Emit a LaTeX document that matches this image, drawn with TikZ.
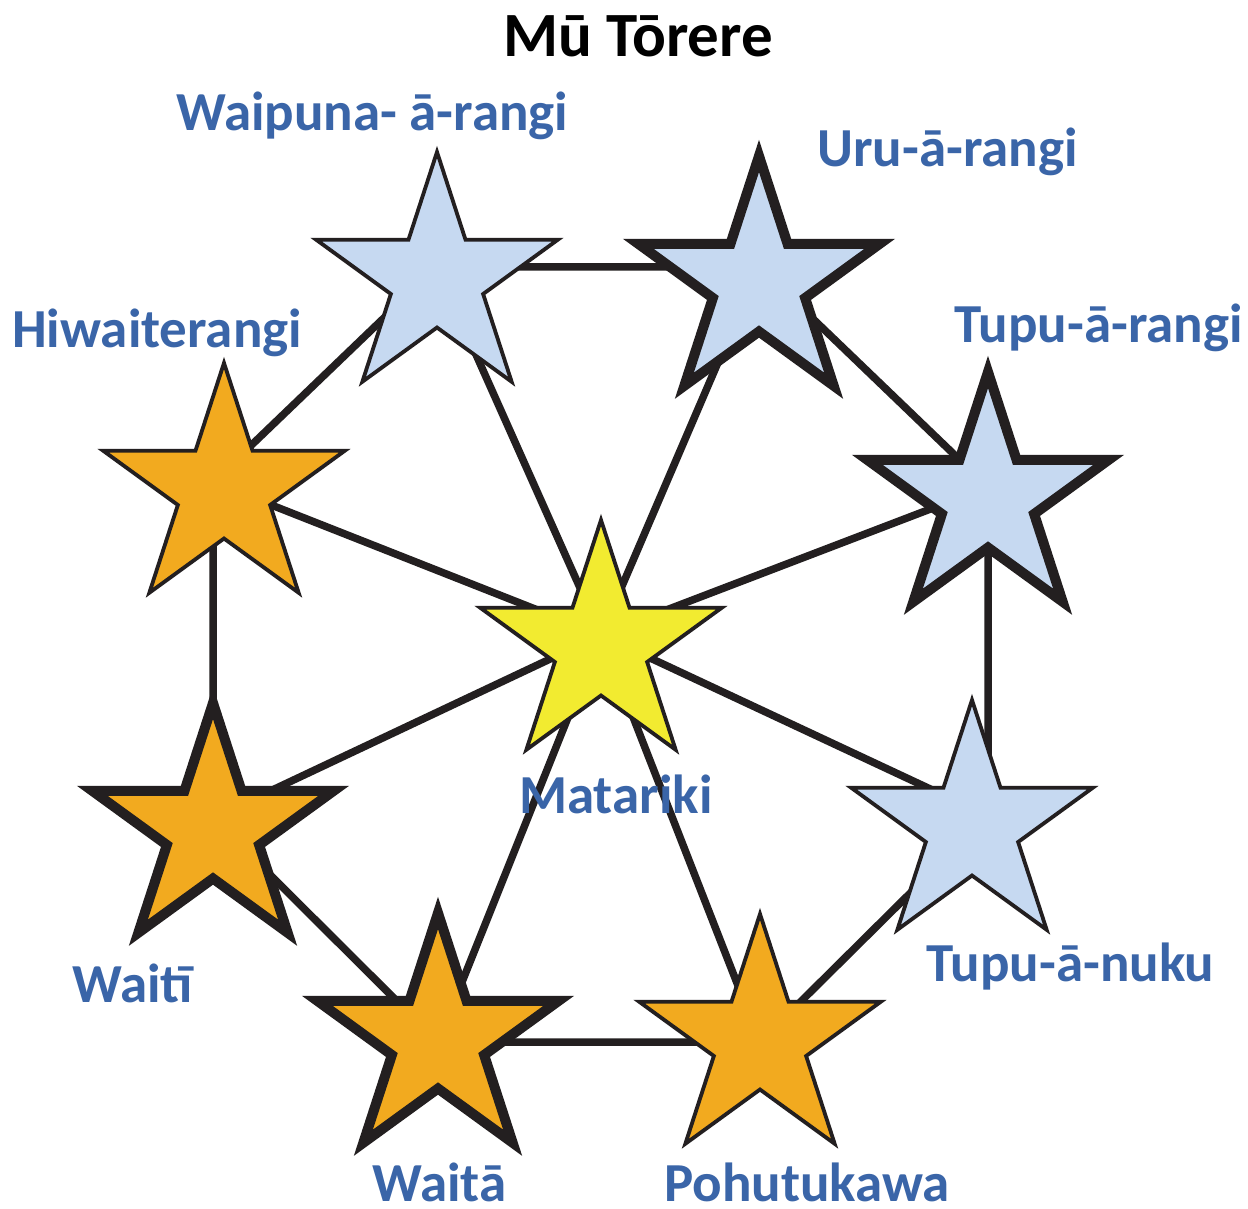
\documentclass[tikz,border=0pt]{standalone}
\usepackage{fontspec}
\setmainfont{Carlito}
\usetikzlibrary{shapes.geometric}
\definecolor{skyfill}{HTML}{C6D9F1}
\definecolor{orangefill}{HTML}{F2AA1F}
\definecolor{yellowfill}{HTML}{F2EB30}
\definecolor{labblue}{HTML}{3A65A8}
\definecolor{ink}{HTML}{231F20}
\begin{document}
\begin{tikzpicture}[x=1pt,y=-1pt,
  starbase/.style={star, star points=5, star point ratio=2.618, minimum size=254pt, inner sep=0pt, draw=ink, line join=miter},
  thinstar/.style={starbase, line width=3.8pt},
  thickstar/.style={starbase, line width=10pt},
  link/.style={draw=ink, line width=7.5pt},
  lab/.style={text=labblue, font=\bfseries\fontsize{55}{60}\selectfont, inner sep=0pt, anchor=base west},
  titlestyle/.style={text=black, font=\bfseries\fontsize{63}{66}\selectfont, inner sep=0pt, anchor=base}]
\fill[white] (0,0) rectangle (1248,1209);
\useasboundingbox (0,0) rectangle (1248,1209);
% junction points
\coordinate (jmat) at (601,635);
\coordinate (jwai) at (437,267);
\coordinate (juru) at (759,267);
\coordinate (jtar) at (988,487);
\coordinate (jtan) at (988,816);
\coordinate (jpoh) at (760,1042);
\coordinate (jwta) at (438,1042);
\coordinate (jwti) at (213,818);
\coordinate (jhiw) at (213,482);
% ring
\draw[link] (jwai) -- (juru) -- (jtar) -- (jtan) -- (jpoh) -- (jwta) -- (jwti) -- (jhiw) -- cycle;
% spokes
\foreach \j in {jwai,juru,jtar,jtan,jpoh,jwta,jwti,jhiw}
  \draw[link] (jmat) -- (\j);
% stars
\node[thinstar, fill=skyfill] (swai) at (437,279) {};
\node[thickstar, fill=skyfill] (suru) at (759,283) {};
\node[thickstar, fill=skyfill] (star) at (988,499) {};
\node[thinstar, fill=skyfill] (stan) at (972,827) {};
\node[thinstar, fill=orangefill] (spoh) at (760,1041) {};
\node[thickstar, fill=orangefill] (swta) at (438,1040) {};
\node[thickstar, fill=orangefill] (swti) at (213,830) {};
\node[thinstar, fill=orangefill] (shiw) at (224,490) {};
\node[thinstar, fill=yellowfill] (smat) at (601,647) {};
% labels
\node[titlestyle] (title) at (638,57) {Mū Tōrere};
\node[lab] (lwai) at (176,131) {Waipuna- ā-rangi};
\node[lab] (luru) at (817,167) {Uru-ā-rangi};
\node[lab] (lhiw) at (12,347) {Hiwaiterangi};
\node[lab] (ltar) at (954,342) {Tupu-ā-rangi};
\node[lab] (lmat) at (519,813) {Matariki};
\node[lab] (ltan) at (926,981) {Tupu-ā-nuku};
\node[lab] (lwti) at (72,1002) {Waitī};
\node[lab] (lwta) at (372,1201) {Waitā};
\node[lab] (lpoh) at (664,1201) {Pohutukawa};
\end{tikzpicture}
\end{document}
